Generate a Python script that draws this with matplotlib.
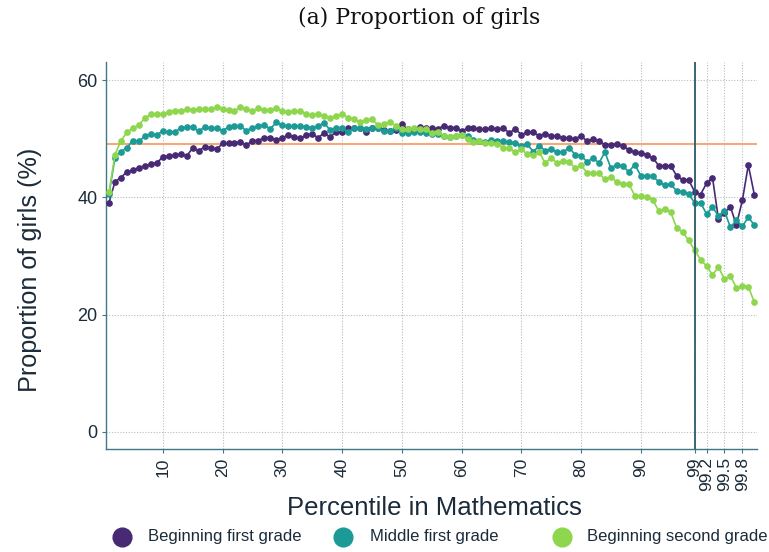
import numpy as np
import matplotlib
matplotlib.use("Agg")
import matplotlib.pyplot as plt
from matplotlib.lines import Line2D

# Percentile bins: 1..99, then the top percent split into tenths
percentiles = [str(p) for p in range(1, 100)] + ["99.1", "99.2", "99.3", "99.4", "99.5",
                                                  "99.6", "99.7", "99.8", "99.9", "100"]

begin_first = [39.1, 42.7, 43.4, 44.4, 44.6, 45.1, 45.4, 45.7, 45.9, 46.9,
               47.1, 47.2, 47.4, 47.1, 48.4, 48.0, 48.6, 48.5, 48.2, 49.2,
               49.2, 49.2, 49.5, 48.9, 49.7, 49.7, 50.2, 50.2, 49.8, 50.2,
               50.6, 50.3, 50.1, 50.6, 50.8, 50.2, 51.0, 50.3, 51.2, 51.2,
               51.9, 51.8, 51.9, 51.1, 51.9, 51.9, 51.5, 51.3, 51.5, 52.5,
               51.6, 51.5, 52.0, 51.8, 51.8, 51.7, 52.2, 51.9, 51.9, 51.3,
               51.8, 51.8, 51.6, 51.6, 51.8, 51.6, 51.8, 51.0, 51.7, 50.7,
               51.1, 51.1, 50.5, 50.9, 50.5, 50.5, 50.1, 50.1, 50.0, 50.5,
               49.6, 49.9, 49.6, 49.0, 49.0, 49.1, 48.8, 48.1, 47.7, 47.6,
               47.2, 46.8, 45.4, 45.4, 45.4, 43.7, 43.0, 43.0, 41.0,
               40.5, 42.4, 43.4, 36.3, 37.3, 38.4, 35.3, 39.5, 45.5, 40.5]

middle_first = [40.6, 46.8, 47.8, 48.5, 49.7, 49.6, 50.4, 50.9, 50.6, 51.4,
                51.1, 51.1, 51.9, 52.0, 52.0, 51.3, 52.0, 51.8, 51.8, 51.4,
                52.0, 52.2, 52.1, 51.4, 51.9, 52.2, 52.3, 51.7, 52.8, 52.3,
                52.1, 52.1, 52.2, 52.0, 51.9, 52.2, 52.7, 51.5, 51.9, 51.9,
                51.1, 51.9, 51.8, 51.7, 51.9, 51.8, 51.3, 51.4, 51.8, 51.0,
                51.0, 51.1, 51.2, 51.0, 50.9, 50.9, 50.4, 50.3, 50.4, 50.6,
                50.5, 49.8, 49.7, 49.4, 49.8, 49.7, 49.6, 49.4, 49.2, 48.8,
                49.1, 47.8, 48.8, 48.0, 48.3, 47.7, 47.7, 48.5, 47.3, 47.1,
                46.1, 46.7, 45.9, 47.7, 45.0, 45.6, 45.3, 44.4, 45.6, 43.7,
                43.7, 43.6, 42.7, 42.1, 42.3, 41.1, 41.0, 40.6, 39.1,
                39.1, 37.2, 38.3, 36.9, 37.7, 34.9, 36.1, 35.1, 36.6, 35.3]

begin_second = [40.9, 47.3, 49.7, 51.1, 51.8, 52.4, 53.5, 54.2, 54.3, 54.2,
                54.6, 54.8, 54.8, 55.0, 54.9, 55.0, 55.0, 55.1, 55.4, 55.1,
                54.9, 54.8, 55.4, 55.1, 54.8, 55.2, 54.9, 54.9, 55.2, 54.7,
                54.6, 54.7, 54.7, 54.3, 54.0, 54.2, 53.9, 53.5, 53.9, 54.2,
                53.6, 53.4, 52.8, 53.2, 53.3, 52.4, 52.5, 52.9, 52.2, 51.7,
                51.6, 51.8, 51.6, 51.6, 51.0, 51.1, 50.5, 50.3, 50.4, 50.6,
                49.9, 49.5, 49.6, 49.3, 49.2, 49.1, 48.5, 48.4, 47.7, 48.2,
                47.4, 47.2, 47.7, 45.9, 46.7, 45.9, 46.2, 46.1, 45.0, 45.5,
                44.2, 44.2, 44.1, 43.1, 43.5, 42.6, 42.3, 42.3, 40.3, 40.3,
                40.1, 39.6, 37.7, 38.1, 37.5, 34.8, 34.1, 32.7, 31.0,
                29.4, 28.3, 26.8, 28.1, 26.1, 26.6, 24.6, 24.9, 24.7, 22.2]

overall_share = 49.1
cutoff_label = "99"
tick_labels = ["10", "20", "30", "40", "50", "60", "70", "80", "90", "99", "99.2", "99.5", "99.8"]
y_ticks = [0, 20, 40, 60]

series_names = ["Beginning first grade", "Middle first grade", "Beginning second grade"]
colors = ["#472a73", "#1c9a96", "#8ed64e"]

text_col = "#1b2b3a"
spine_col = "#3e7886"
W, H = 769, 552

fig = plt.figure(figsize=(7.69, 5.52), dpi=100)
ax = fig.add_axes([0.1375, 0.1866, 0.8465, 0.7011])

pos = np.arange(1, len(percentiles) + 1)
pos_of = {p: i + 1 for i, p in enumerate(percentiles)}

ax.axhline(overall_share, color="#f7a878", lw=1.5, zorder=2)
for vals, c in zip([begin_first, middle_first, begin_second], colors):
    ax.plot(pos, vals, color=c, lw=1.2, marker="o", ms=3.8, zorder=3)

ax.axvline(pos_of[cutoff_label], color="#2d5a6c", lw=1.3, zorder=4)

tick_pos = [pos_of[t] for t in tick_labels]
ax.set_xticks(tick_pos)
ax.set_xticklabels(tick_labels, rotation=90, fontsize=12.5, color=text_col,
                   family="Liberation Sans")
ax.set_yticks(y_ticks)
ax.set_yticklabels([str(v) for v in y_ticks], fontsize=13, color=text_col,
                   family="Liberation Sans")
ax.set_xlim(0.45, 109.4)
ax.set_ylim(-2.9, 63.1)

ax.grid(True, color="#b3bdc4", lw=0.8, ls=(0, (1, 1.5)), zorder=0)
for s in ["top", "right"]:
    ax.spines[s].set_visible(False)
for s in ["left", "bottom"]:
    ax.spines[s].set_color(spine_col)
    ax.spines[s].set_linewidth(1.0)
ax.tick_params(axis="both", colors=spine_col, length=3, width=0.8, labelcolor=text_col, pad=3)

fig.text(30 / W, 1 - 270 / H, "Proportion of girls (%)", rotation=90, ha="center", va="center",
         fontsize=18.2, color=text_col, family="Liberation Sans")
fig.text(434 / W, 1 - 508 / H, "Percentile in Mathematics", ha="center", va="center",
         fontsize=18.5, color=text_col, family="Liberation Sans")

fig.text(419 / W, 1 - 18 / H, "(a) Proportion of girls", ha="center", va="center",
         fontsize=15.8, family="DejaVu Serif", color="#111111")

# legend drawn as figure-level markers + texts
leg_marker_x = [122, 343, 562]
leg_text_x = [148, 370, 587]
leg_y = 1 - 537 / H
for mx, tx, c, name in zip(leg_marker_x, leg_text_x, colors, series_names):
    fig.add_artist(Line2D([mx / W], [leg_y], transform=fig.transFigure, ls="none",
                          marker="o", ms=13.5, color=c))
    fig.text(tx / W, leg_y, name, ha="left", va="center", fontsize=12,
             family="Liberation Sans", color=text_col)

fig.savefig("out.png", dpi=100)
